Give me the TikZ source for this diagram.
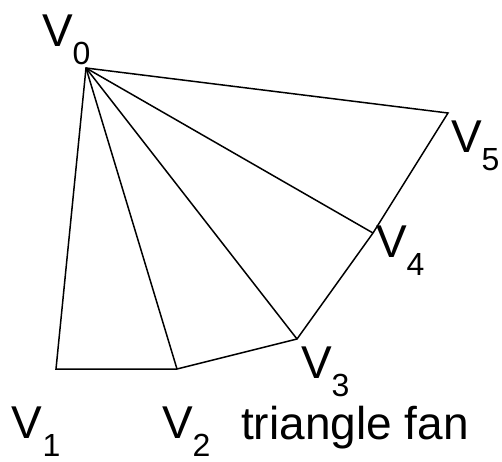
\documentclass[tikz,border=0pt]{standalone}
\usepackage{fontspec}
\setmainfont{Liberation Sans}
\usepackage{tikz}
\usetikzlibrary{positioning}
\definecolor{edgeink}{HTML}{000000}
\newcommand{\subfont}{\fontsize{32}{32}\selectfont}
\newcommand{\vtx}[1]{V\raisebox{-18pt}{\subfont #1}}
\tikzset{
  edge/.style ={draw=edgeink,line width=1.5pt,line join=miter},
  vlab/.style ={anchor=base west,inner sep=0pt,outer sep=0pt,
                font=\fontsize{46}{46}\selectfont},
  caption/.style={anchor=base west,inner sep=0pt,
                font=\fontsize{46}{46}\selectfont}
}
\begin{document}
\begin{tikzpicture}[x=1pt,y=-1pt]
        \useasboundingbox (0,0) rectangle (502,461);
        % fan vertices
        \coordinate (v0) at (86,68);
        \coordinate (v1) at (56,369);
        \coordinate (v2) at (177,369);
        \coordinate (v3) at (297,339);
        \coordinate (v4) at (373,233);
        \coordinate (v5) at (448,113);
        % outline and diagonals
        \draw[edge] (v0) -- (v1) -- (v2) -- (v3) -- (v4) -- (v5) -- cycle;
        \draw[edge] (v0) -- (v2);
        \draw[edge] (v0) -- (v3);
        \draw[edge] (v0) -- (v4);
        % labels
        \node[vlab] (l0) at (42,46) {\vtx{0}};
        \node[vlab] (l1) at (12,438) {\vtx{1}};
        \node[vlab] (l2) at (162,438) {\vtx{2}};
        \node[vlab] (l3) at (301,378) {\vtx{3}};
        \node[vlab] (l4) at (376,257) {\vtx{4}};
        \node[vlab] (l5) at (451,152) {\vtx{5}};
        \node[caption] (fan) at (241,439) {triangle fan};
      \end{tikzpicture}
\end{document}
